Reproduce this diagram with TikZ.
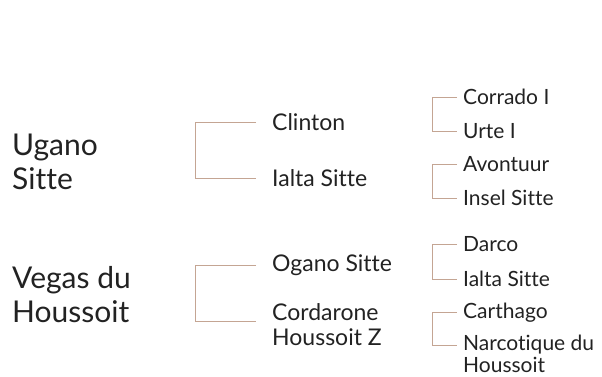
\documentclass[tikz,border=0pt]{standalone}
\usepackage{fontspec}
\setmainfont{Lato}[Ligatures=NoCommon]
\usepackage{tikz}
\usetikzlibrary{calc}
\definecolor{pedink}{HTML}{222222}
\definecolor{pedline}{HTML}{C4A593}

\begin{document}
\begin{tikzpicture}[x=1pt, y=-1pt,
    sire/.style={anchor=west, align=left, inner sep=0pt, text=pedink,
                 font=\fontsize{30}{34}\selectfont},
    parent/.style={anchor=west, align=left, inner sep=0pt, text=pedink,
                   font=\fontsize{23}{25}\selectfont},
    grand/.style={anchor=west, align=left, inner sep=0pt, text=pedink,
                  font=\fontsize{21}{22}\selectfont},
    brk/.style={draw=pedline, line width=0.9pt}]
    \useasboundingbox (0,0) rectangle (602,376);

    % first horse
    \node[sire] (ugano) at (12,162) {Ugano\\Sitte};
    \node[parent] (clinton) at (272,122) {Clinton};
    \node[parent] (ialtaA) at (272,178) {Ialta Sitte};
    \node[grand] (corrado) at (463,97) {Corrado I};
    \node[grand] (urte) at (463,131) {Urte I};
    \node[grand] (avontuur) at (463,164) {Avontuur};
    \node[grand] (insel) at (463,198) {Insel Sitte};

    % second horse
    \node[sire] (vegas) at (12,295) {Vegas du\\Houssoit};
    \node[parent] (ogano) at (272,265) {Ogano Sitte};
    \node[parent] (cordarone) at (272,325) {Cordarone\\Houssoit Z};
    \node[grand] (darco) at (463,244) {Darco};
    \node[grand] (ialtaB) at (463,279) {Ialta Sitte};
    \node[grand] (carthago) at (463,313) {Carthago};
    \node[grand] (narcotique) at (463,354) {Narcotique du\\Houssoit};

    % brackets
    \draw[brk] ([xshift=-16pt]clinton.west) -- ++(-61,0) |- ([xshift=-16pt]ialtaA.west);
    \draw[brk] ([xshift=-16pt]ogano.west) -- ++(-61,0) |- ([xshift=-16pt,yshift=4pt]cordarone.west);
    \draw[brk] ([xshift=-6pt]corrado.west) -- ++(-25,0) |- ([xshift=-6pt]urte.west);
    \draw[brk] ([xshift=-6pt]avontuur.west) -- ++(-25,0) |- ([xshift=-6pt]insel.west);
    \draw[brk] ([xshift=-6pt]darco.west) -- ++(-25,0) |- ([xshift=-6pt]ialtaB.west);
    \draw[brk] ([xshift=-6pt,yshift=1pt]carthago.west) -- ++(-25,0) |- ([xshift=-6pt,yshift=9pt]narcotique.west);
\end{tikzpicture}
\end{document}
